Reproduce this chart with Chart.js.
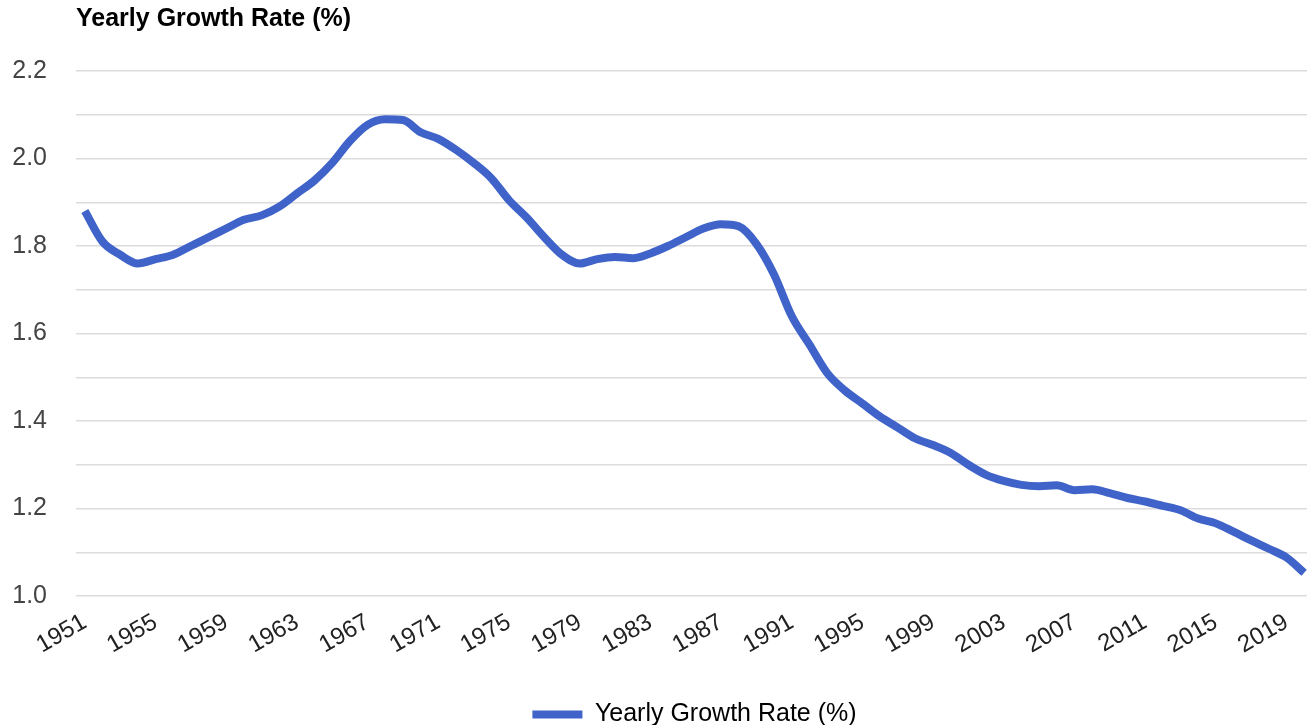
<!DOCTYPE html>
<html>
<head>
<meta charset="utf-8">
<script src="https://cdn.jsdelivr.net/npm/chart.js@4"></script>
<style>
  html, body { margin: 0; padding: 0; background: #fff; overflow: hidden; }
  #wrap { width: 1313px; height: 737px; }
</style>
</head>
<body>
<div id="wrap"><canvas id="c" width="1313" height="737"></canvas></div>
<script>
const years = [1951,1952,1953,1954,1955,1956,1957,1958,1959,1960,
  1961,1962,1963,1964,1965,1966,1967,1968,1969,1970,
  1971,1972,1973,1974,1975,1976,1977,1978,1979,1980,
  1981,1982,1983,1984,1985,1986,1987,1988,1989,1990,
  1991,1992,1993,1994,1995,1996,1997,1998,1999,2000,
  2001,2002,2003,2004,2005,2006,2007,2008,2009,2010,
  2011,2012,2013,2014,2015,2016,2017,2018,2019,2020];
const growthRates = [1.88,1.81,1.78,1.76,1.77,1.78,1.80,1.82,1.84,1.86,
  1.87,1.89,1.92,1.95,1.99,2.04,2.077,2.09,2.088,2.06,
  2.045,2.02,1.99,1.955,1.905,1.865,1.82,1.78,1.76,1.77,
  1.775,1.772,1.783,1.80,1.82,1.84,1.85,1.845,1.805,1.735,
  1.64,1.575,1.51,1.47,1.44,1.41,1.385,1.36,1.345,1.327,
  1.30,1.277,1.263,1.254,1.251,1.253,1.242,1.244,1.235,1.224,
  1.216,1.206,1.196,1.177,1.166,1.147,1.127,1.108,1.088,1.053];
const seriesName = 'Yearly Growth Rate (%)';
const chartTitle = 'Yearly Growth Rate (%)';
const yMin = 1.0, yMax = 2.2, yStep = 0.1;
const xLabelEvery = 4;

const blue = '#3f63c9';
const font = 'Liberation Sans, Arial, Helvetica, sans-serif';

new Chart(document.getElementById('c'), {
  type: 'line',
  data: {
    labels: years.map(String),
    datasets: [{
      label: seriesName,
      data: growthRates,
      borderColor: blue,
      backgroundColor: blue,
      borderWidth: 8,
      pointRadius: 0,
      tension: 0.4,
      cubicInterpolationMode: 'monotone',
      borderCapStyle: 'butt',
      borderJoinStyle: 'round'
    }]
  },
  options: {
    responsive: false,
    animation: false,
    layout: { autoPadding: false, padding: { left: 12, right: 0, top: 0, bottom: 0 } },
    plugins: {
      tooltip: { enabled: false },
      title: {
        display: true,
        text: chartTitle,
        align: 'start',
        fullSize: false,
        color: '#000',
        font: { family: font, size: 25, weight: 'bold' },
        padding: { top: 4, bottom: 37 }
      },
      legend: {
        display: true,
        position: 'bottom',
        fullSize: false,
        labels: {
          color: '#222',
          font: { family: font, size: 25 },
          boxWidth: 50,
          boxHeight: 8,
          padding: 0,
          generateLabels: (chart) => chart.data.datasets.map((d, i) => ({
            text: d.label, fillStyle: blue, strokeStyle: blue, lineWidth: 0,
            datasetIndex: i, hidden: false
          }))
        }
      }
    },
    scales: {
      x: {
        offset: true,
        grid: { display: false, drawTicks: false },
        border: { display: false },
        afterFit: (scale) => {
          scale.paddingLeft = 0;
          scale.paddingRight = 0;
          scale.height = 106;
        },
        ticks: {
          autoSkip: false,
          maxRotation: 30,
          minRotation: 30,
          padding: 12,
          color: '#222',
          font: { family: font, size: 24 },
          callback: function(v, i) { return i % xLabelEvery === 0 ? this.getLabelForValue(v) : ''; }
        }
      },
      y: {
        min: yMin,
        max: yMax,
        grid: { color: '#dcdcdc', lineWidth: 1.5, drawTicks: false },
        border: { display: false },
        afterFit: (scale) => { scale.width = 64; },
        ticks: {
          stepSize: yStep,
          padding: 29,
          color: '#444',
          font: { family: font, size: 25 },
          callback: (v, i) => (i % 2 === 0 ? Number(v).toFixed(1) : '')
        }
      }
    }
  }
});
</script>
</body>
</html>
